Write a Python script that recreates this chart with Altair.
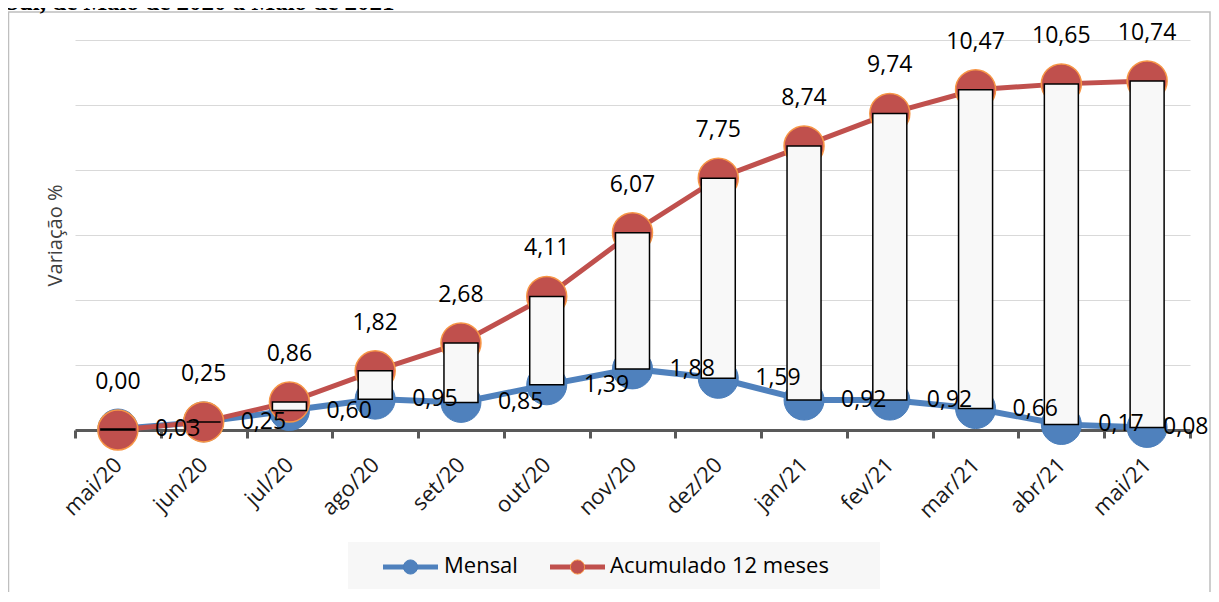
import altair as alt
import pandas as pd

# ---------------- data ----------------
meses = ["mai/20", "jun/20", "jul/20", "ago/20", "set/20", "out/20", "nov/20",
         "dez/20", "jan/21", "fev/21", "mar/21", "abr/21", "mai/21"]
mensal = [0.03, 0.25, 0.60, 0.95, 0.85, 1.39, 1.88, 1.59, 0.92, 0.92, 0.66, 0.17, 0.08]
acumulado = [0.00, 0.25, 0.86, 1.82, 2.68, 4.11, 6.07, 7.75, 8.74, 9.74, 10.47, 10.65, 10.74]
series = ["Mensal", "Acumulado 12 meses"]
cores = ["#4F81BD", "#C0504D"]
bordas = ["#4A7EBB", "#F79646"]
y_ticks = [0, 2, 4, 6, 8, 10, 12]
titulo = "Sul, de Maio de 2020 a Maio de 2021"
y_titulo = "Variação %"


def fmt(v):
    return f"{v:.2f}".replace(".", ",")


df = pd.DataFrame({"mes": meses, "mensal": mensal, "acumulado": acumulado})
df["mensal_txt"] = df["mensal"].map(fmt)
df["acum_txt"] = df["acumulado"].map(fmt)
ultimo = meses[-1]

leg_df = pd.DataFrame({"serie": series})
one = pd.DataFrame({"t": [titulo]})

FONT = "Open Sans"
W, H = 1115, 390

x_axis = alt.Axis(
    title=None, labelAngle=-45, labelAlign="right", labelBaseline="middle",
    labelFont=FONT, labelFontSize=22, labelColor="#1a1a1a", labelPadding=23,
    tickBand="extent", tickSize=8, tickWidth=3, tickColor="#595959",
    domainColor="#595959", domainWidth=3, grid=False, labelOverlap=False,
)
X = alt.X("mes:N", sort=meses, axis=x_axis,
          scale=alt.Scale(paddingInner=0, paddingOuter=0))

y_axis = alt.Axis(
    title=y_titulo, values=y_ticks, grid=True, gridColor="#D9D9D9", gridWidth=1.2,
    labels=False, ticks=False, domain=False,
    titleFont=FONT, titleFontSize=20, titleFontWeight="normal", titleColor="#404040",
    titleAngle=-90, titleX=-20, titleY=195, titleAlign="center", titleBaseline="middle",
)
yscale = alt.Scale(domain=[0, 12], nice=False, zero=True)
Ym = alt.Y("mensal:Q", scale=yscale, axis=y_axis)
Ya = alt.Y("acumulado:Q", scale=yscale, axis=y_axis)

base = alt.Chart(df)

# frame & title
frame = alt.Chart(one).mark_rect(fillOpacity=0, stroke="#BFBFBF", strokeWidth=1.5).encode(
    x=alt.value(-66.5), x2=alt.value(1135), y=alt.value(-28), y2=alt.value(620))
title = alt.Chart(one).mark_text(
    align="left", baseline="alphabetic", font="Liberation Serif", fontWeight="bold",
    fontSize=25, color="#000000").encode(
    x=alt.value(-70), y=alt.value(-30), text="t:N")

# legend (drawn manually)
leg_box = alt.Chart(one).mark_rect(fill="#F7F7F7").encode(
    x=alt.value(273), x2=alt.value(805), y=alt.value(502), y2=alt.value(549))
leg_layers = []
for nome, cor, borda, x0, xt in [(series[0], cores[0], bordas[0], 308, 369),
                                  (series[1], cores[1], bordas[1], 475, 535)]:
    src = alt.Chart(leg_df).transform_filter(alt.datum.serie == nome)
    leg_layers.append(src.mark_rule(color=cor, strokeWidth=5).encode(
        x=alt.value(x0), x2=alt.value(x0 + 55), y=alt.value(527)))
    leg_layers.append(src.mark_circle(size=200, color=cor, opacity=1, stroke=borda,
                                      strokeWidth=1).encode(
        x=alt.value(x0 + 27.5), y=alt.value(527)))
    leg_layers.append(src.mark_text(align="left", baseline="middle", font=FONT,
                                    fontSize=22, color="#000000").encode(
        x=alt.value(xt), y=alt.value(526), text="serie:N"))

# series
line_m = base.mark_line(color=cores[0], strokeWidth=6).encode(x=X, y=Ym)
pts_m = base.mark_circle(size=1600, color=cores[0], opacity=1, stroke=bordas[0],
                         strokeWidth=1).encode(x=X, y=Ym)
line_a = base.mark_line(color=cores[1], strokeWidth=5).encode(x=X, y=Ya)
pts_a = base.mark_circle(size=1600, color=cores[1], opacity=1, stroke=bordas[1],
                         strokeWidth=1.5).encode(x=X, y=Ya)

bars = base.mark_bar(width=34, fill="#F8F8F8", stroke="#000000", strokeWidth=1.5).encode(
    x=X, y=Ym, y2="acumulado:Q")

lab_a = base.mark_text(dy=-48, font=FONT, fontSize=23, color="#000000").encode(
    x=X, y=Ya, text="acum_txt:N")
lab_m = base.transform_filter(alt.datum.mes != ultimo).mark_text(
    align="left", baseline="middle", dx=37, font=FONT, fontSize=23, color="#000000").encode(
    x=X, y=Ym, text="mensal_txt:N")
lab_m_last = base.transform_filter(alt.datum.mes == ultimo).mark_text(
    align="left", baseline="middle", dx=16, font=FONT, fontSize=23, color="#000000").encode(
    x=X, y=Ym, text="mensal_txt:N")

chart = alt.layer(
    frame, title, leg_box, *leg_layers,
    line_m, pts_m, line_a, pts_a, bars, lab_a, lab_m, lab_m_last,
).properties(
    width=W, height=H,
    autosize=alt.AutoSizeParams(type="none"),
    padding={"left": 67, "top": 32, "right": 21, "bottom": 162},
    background="#FFFFFF",
).configure_view(stroke=None)

chart.save("out.html", embed_options={"renderer": "svg", "actions": False})
